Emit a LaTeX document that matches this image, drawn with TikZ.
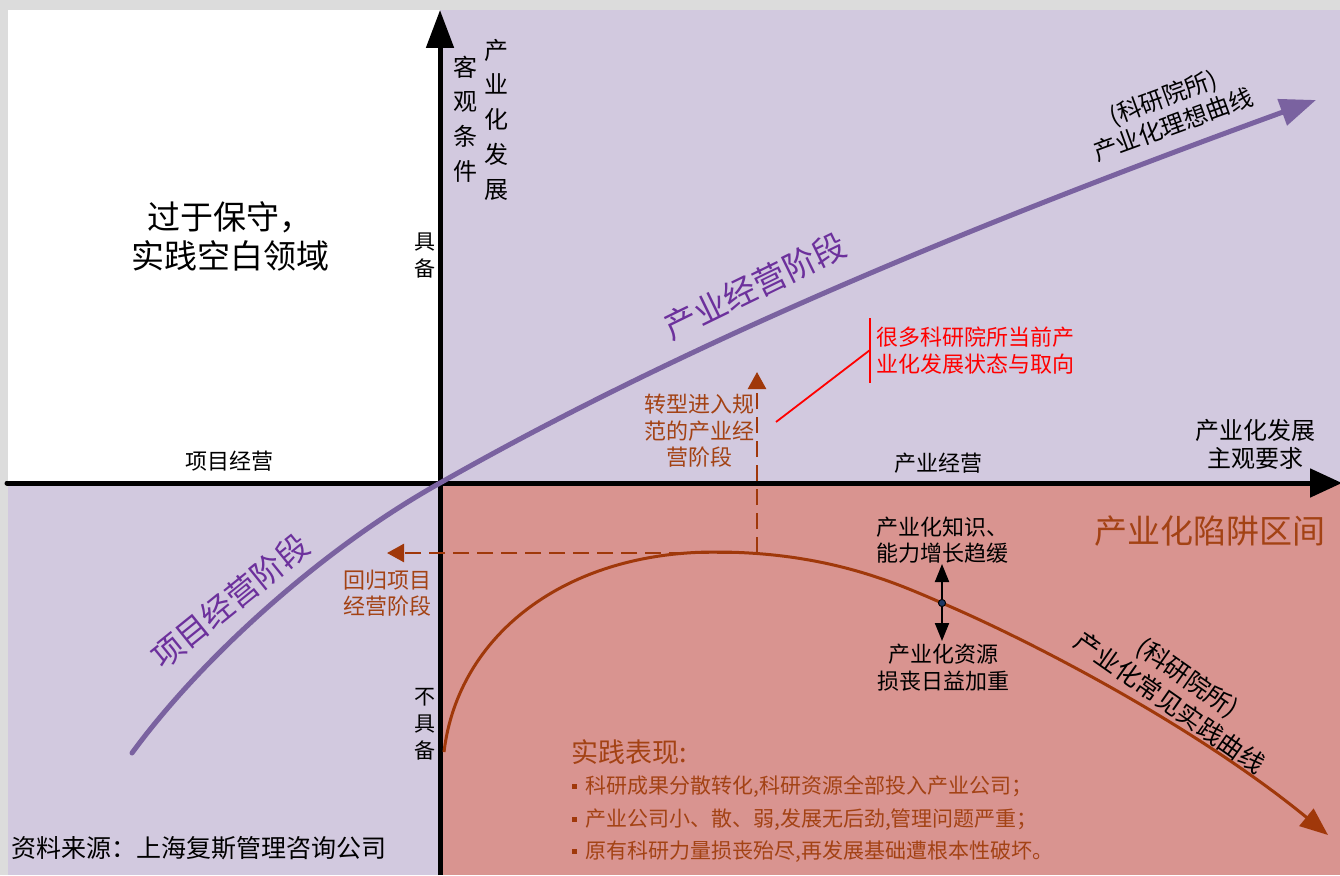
\documentclass[tikz,border=0pt]{standalone}
\usepackage{fontspec}
\setmainfont{Noto Sans CJK SC}
\usetikzlibrary{arrows.meta}
\definecolor{bggray}{RGB}{220,220,220}
\definecolor{lav}{RGB}{210,201,223}
\definecolor{pinkq}{RGB}{217,148,144}
\definecolor{purpleline}{RGB}{122,98,160}
\definecolor{purpletext}{RGB}{108,48,156}
\definecolor{brownline}{RGB}{160,56,10}
\definecolor{browntext}{RGB}{163,66,20}
\definecolor{dotblue}{RGB}{31,56,100}
\newcommand\fsz[2]{\fontsize{#1}{#2}\selectfont}
\begin{document}
\begin{tikzpicture}[x=1pt,y=-1pt,
  lbl/.style={inner sep=0pt, align=center},
  lblw/.style={inner sep=0pt, align=left, anchor=west},
  axis/.style={line width=5pt, draw=black},
  ideal/.style={line width=5pt, draw=purpleline, line cap=round},
  practice/.style={line width=3pt, draw=brownline},
  dashbrown/.style={line width=2.5pt, draw=brownline, dash pattern=on 16pt off 8pt},
  redline/.style={line width=1.8pt, draw=red}
]
\useasboundingbox (0,0) rectangle (1340,875);
% backgrounds
\fill[bggray] (0,0) rectangle (1340,875);
\fill[white] (8,10) rectangle (440,483);
\fill[lav] (440,10) rectangle (1340,483);
\fill[lav] (8,483) rectangle (440,875);
\fill[pinkq] (440,483) rectangle (1340,875);

% axes
\coordinate (ybot) at (440,875);
\coordinate (ytop) at (440,10);
\coordinate (xl) at (7,483);
\coordinate (xr) at (1342,483);
\draw[axis, -{Triangle[length=38pt,width=27pt]}] (ybot) -- (ytop);
\draw[axis, line cap=round, -{Triangle[length=32pt,width=28pt]}] (xl) -- (xr);

% dashed arrows from peak of practice curve
\coordinate (peak) at (757,553);
\coordinate (upend) at (757,372);
\coordinate (leftend) at (387,553);
\draw[dashbrown, -{Triangle[length=17pt,width=18pt]}] (peak) -- (upend);
\draw[dashbrown, -{Triangle[length=17pt,width=18pt]}] (peak) -- (leftend);

% practice curve
\coordinate (pstart) at (444,752);
\coordinate (ptop) at (715,552);
\coordinate (pmid) at (942,603);
\coordinate (pend) at (1328,835);
\draw[practice, -{Triangle[length=28pt,width=22pt]}]
  (pstart) .. controls (458,635) and (565,552) .. (ptop)
  .. controls (830,552) and (900,585) .. (pmid)
  .. controls (1040,645) and (1200,730) .. (pend);

% ideal curve
\coordinate (istart) at (132,753);
\coordinate (icross) at (440,483);
\coordinate (iend) at (1316,100);
\draw[ideal, -{Triangle[length=36pt,width=27pt]}]
  (istart) .. controls (200,660) and (320,550) .. (icross)
  .. controls (700,335) and (1000,215) .. (iend);

% red annotation
\coordinate (rtop) at (870,318);
\coordinate (rbot) at (870,383);
\coordinate (rmid) at (870,350);
\coordinate (rfoot) at (776,422);
\draw[redline] (rtop) -- (rbot);
\draw[redline] (rfoot) -- (rmid);
\node[lblw, text=red, font=\fsz{22}{27}] (redtxt) at (876,350.5) {很多科研院所当前产\\业化发展状态与取向};

% double arrow with dot
\coordinate (aup) at (942,564);
\coordinate (adown) at (942,641);
\node[circle, fill=dotblue, draw=black, line width=0.8pt, inner sep=0pt, minimum size=7pt] (dot) at (pmid) {};
\draw[line width=2pt, -{Triangle[length=18pt,width=14pt]}] (dot) -- (aup);
\draw[line width=2pt, -{Triangle[length=18pt,width=14pt]}] (dot) -- (adown);
\node[circle, fill=dotblue, draw=black, line width=0.8pt, inner sep=0pt, minimum size=7pt] at (dot) {};

% texts
\node[lbl, font=\fsz{33}{39}] (cons) at (230,236) {过于保守，\\实践空白领域};
\node[lbl, font=\fsz{24}{34.7}] (obj) at (465,119) {客\\观\\条\\件};
\node[lbl, font=\fsz{24}{34.7}] (dev) at (496,119.5) {产\\业\\化\\发\\展};
\node[lbl, font=\fsz{21}{27}] (hasy) at (425,256) {具\\备};
\node[lbl, font=\fsz{21}{27}] (hasn) at (425,724) {不\\具\\备};
\node[lbl, font=\fsz{22}{27}] (projop) at (229,461) {项目经营};
\node[lbl, font=\fsz{22}{27}] (indop) at (938,463) {产业经营};
\node[lbl, font=\fsz{24}{28}] (subj) at (1255,444) {产业化发展\\主观要求};
\node[lbl, font=\fsz{33}{40}, text=browntext] (trap) at (1210,531) {产业化陷阱区间};
\node[lblw, font=\fsz{22}{26}] (slow) at (876,540) {产业化知识、\\能力增长趋缓};
\node[lbl, font=\fsz{22}{27}] (loss) at (943,668) {产业化资源\\损丧日益加重};
\node[lbl, font=\fsz{24}{29}, rotate=20] (idealtxt) at (1168,111) {(科研院所)\\产业化理想曲线};
\node[lbl, font=\fsz{25}{31}, rotate=-35] (practxt) at (1179,690) {(科研院所)\\产业化常见实践曲线};
\node[lbl, font=\fsz{33}{38}, text=purpletext, rotate=26] (indstage) at (755,286) {产业经营阶段};
\node[lbl, font=\fsz{32}{38}, text=purpletext, rotate=39] (projstage) at (230,601) {项目经营阶段};
\node[lbl, font=\fsz{22}{26.5}, text=browntext] (trans) at (699,431) {转型进入规\\范的产业经\\营阶段};
\node[lbl, font=\fsz{22}{26}, text=browntext] (back) at (387,593) {回归项目\\经营阶段};
\node[lblw, font=\fsz{27}{32}, text=browntext] (prac) at (571,752) {实践表现:};
\foreach \yy/\tx/\nm in {787/{科研成果分散转化,科研资源全部投入产业公司；}/b1,
                          820/{产业公司小、散、弱,发展无后劲,管理问题严重；}/b2,
                          852/{原有科研力量损丧殆尽,再发展基础遭根本性破坏。}/b3}{
  \fill[brownline] (572,\yy-3) rectangle (577,\yy+2);
  \node[lblw, font=\fsz{21}{26}, text=browntext] (\nm) at (585,\yy) {\tx};
}
\node[lblw, font=\fsz{25}{28}] (src) at (11,848) {资料来源：上海复斯管理咨询公司};
\end{tikzpicture}
\end{document}
